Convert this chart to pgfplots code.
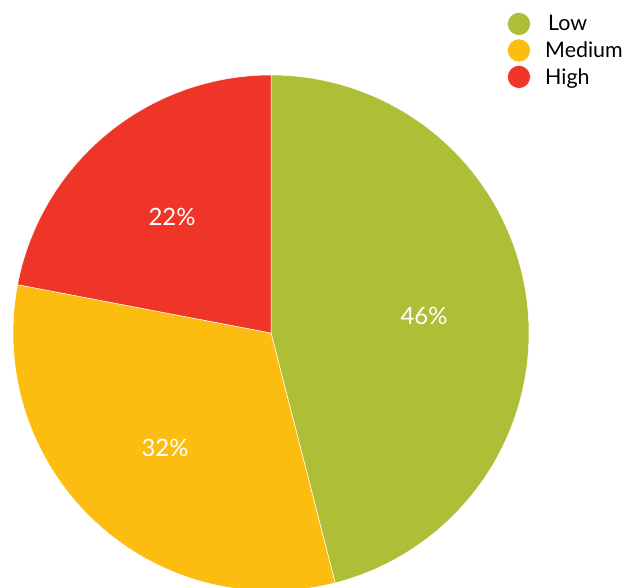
\documentclass[border=0pt]{standalone}
\usepackage{fontspec}
\setmainfont{Lato}
\usepackage{pgfplots}
\pgfplotsset{compat=1.18}
\definecolor{lowc}{RGB}{175,190,55}
\definecolor{medc}{RGB}{253,189,16}
\definecolor{highc}{RGB}{238,53,40}
\begin{document}
\begin{tikzpicture}
\begin{axis}[
  width=627bp, height=588bp, scale only axis,
  xmin=0, xmax=627, ymin=0, ymax=588,
  hide axis, clip=true,
  legend style={at={(axis cs:507,576)}, anchor=north west, draw=none, fill=none,
    font=\fontsize{21.5}{23}\selectfont, row sep=3bp, inner sep=0pt,
    nodes={inner sep=2bp}},
  legend cell align=left,
  legend image code/.code={\fill[#1] (0bp,0bp) circle (11.5bp); \path (24bp,0bp);},
]
% Low 46, Medium 32, High 22 -- clockwise from 12 o'clock
\addplot[fill=lowc, draw=white, line width=0.5pt, domain={90-46*3.6}:90, samples=180, variable=\t]
  ({271+258*cos(\t)},{255+258*sin(\t)}) -- (271,255) -- cycle;
\addlegendentry{\hspace{3bp}Low}
\addplot[fill=medc, draw=white, line width=0.5pt, domain={90-78*3.6}:{90-46*3.6}, samples=180, variable=\t]
  ({271+258*cos(\t)},{255+258*sin(\t)}) -- (271,255) -- cycle;
\addlegendentry{Medium}
\addplot[fill=highc, draw=white, line width=0.5pt, domain={90-100*3.6}:{90-78*3.6}, samples=180, variable=\t]
  ({271+258*cos(\t)},{255+258*sin(\t)}) -- (271,255) -- cycle;
\addlegendentry{High}
\node[text=white, font=\fontsize{24}{26}\selectfont] at (424,272) {46\%};
\node[text=white, font=\fontsize{24}{26}\selectfont] at (165,140) {32\%};
\node[text=white, font=\fontsize{24}{26}\selectfont] at (172,371) {22\%};
\end{axis}
\path (current axis.south west) (current axis.north east);
\end{tikzpicture}
\end{document}
